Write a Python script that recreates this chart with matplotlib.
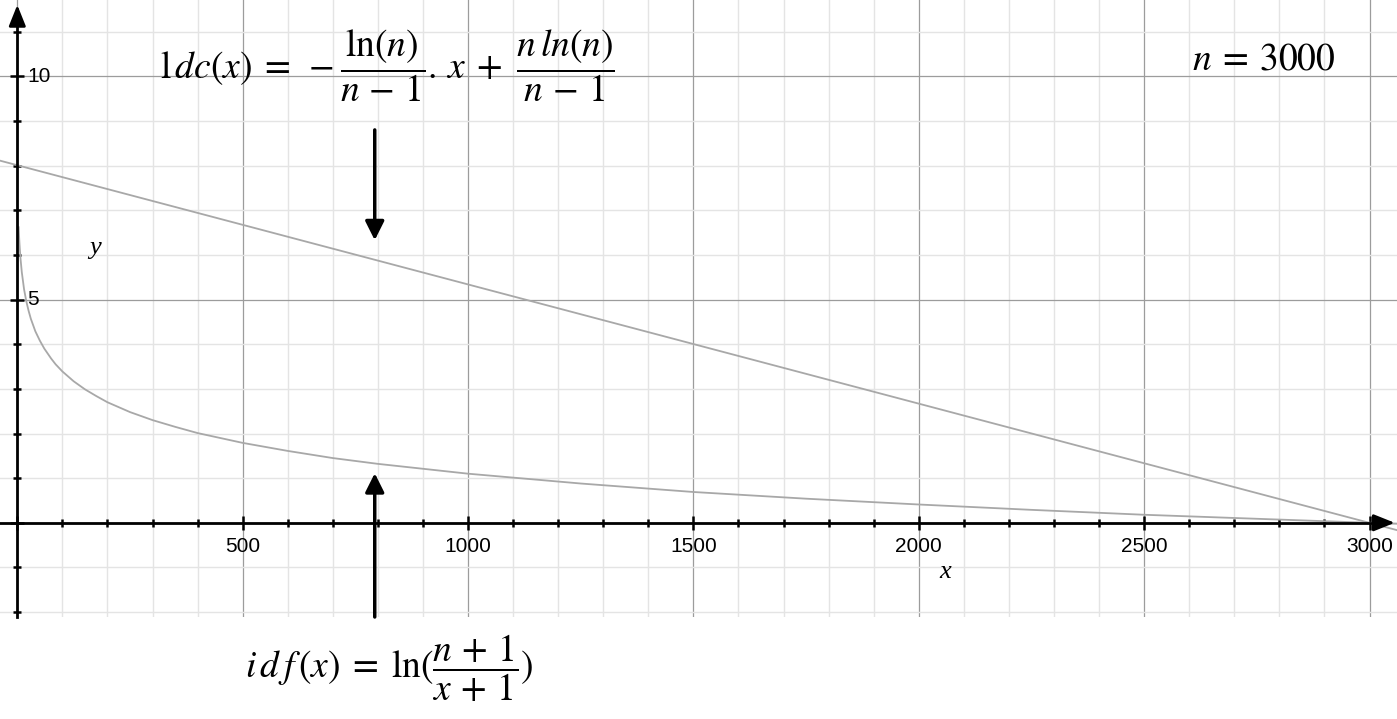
import matplotlib.pyplot as plt
from matplotlib.ticker import MultipleLocator, NullFormatter
import matplotlib.transforms as mtransforms

plt.rcParams['mathtext.fontset'] = 'stix'

# ldc(x) straight line, n = 3000
ldc_x = [-40, 3065]
ldc_y = [8.116, -0.175]

# idf(x) curve, values
idf_x = [3, 4, 5, 7, 10, 15, 20, 25, 30, 40, 50, 60, 75, 85, 100, 125, 150, 175, 200, 225, 250, 300,
         350, 400, 450, 500, 600, 700, 800, 1000, 1250, 1500, 1750, 2000, 2250, 2500, 2750, 3000, 3060]
idf_y = [6.62, 6.40, 6.22, 5.93, 5.61, 5.23, 4.96, 4.75, 4.57, 4.29, 4.08, 3.90, 3.68, 3.55, 3.39, 3.17,
         2.99, 2.84, 2.70, 2.59, 2.48, 2.30, 2.15, 2.01, 1.90, 1.79, 1.61, 1.45, 1.32, 1.10, 0.88, 0.69,
         0.54, 0.41, 0.29, 0.18, 0.09, 0.0, -0.02]

xtick_labels = [500, 1000, 1500, 2000, 2500, 3000]
ytick_labels = [5, 10]

arrow_x = 793
down_arrow = (8.80, 6.33)
up_arrow = (-2.11, 1.11)

fig = plt.figure(figsize=(13.97, 7.19), dpi=100)
ax = fig.add_axes([0, 102 / 719, 1, 617 / 719])
ax.set_xlim(-38.4, 3061)
ax.set_ylim(-2.11, 11.71)

# grid
ax.xaxis.set_major_locator(MultipleLocator(500))
ax.xaxis.set_minor_locator(MultipleLocator(100))
ax.yaxis.set_major_locator(MultipleLocator(5))
ax.yaxis.set_minor_locator(MultipleLocator(1))
ax.grid(which='minor', color='#e4e4e4', lw=1.0)
ax.grid(which='major', color='#9c9c9c', lw=0.9)
ax.set_axisbelow(True)

# axes through origin
for s in ['top', 'right']:
    ax.spines[s].set_visible(False)
ax.spines['left'].set_position(('data', 0))
ax.spines['bottom'].set_position(('data', 0))
ax.spines['left'].set_linewidth(2)
ax.spines['bottom'].set_linewidth(2)
ax.spines['left'].set_bounds(-2.11, 11.3)
ax.spines['bottom'].set_bounds(-40, 3030)
ax.tick_params(which='major', direction='inout', length=10, width=1.8, color='k')
ax.tick_params(which='minor', direction='inout', length=6, width=1.8, color='k')
ax.xaxis.set_major_formatter(NullFormatter())
ax.yaxis.set_major_formatter(NullFormatter())

axis_head = dict(arrowstyle='-|>,head_length=0.75,head_width=0.3', lw=2, color='k',
                 mutation_scale=17, shrinkA=0, shrinkB=0)
ax.annotate('', xy=(3056, 0), xytext=(3010, 0), arrowprops=axis_head, annotation_clip=False)
ax.annotate('', xy=(0, 11.6), xytext=(0, 11.2), arrowprops=axis_head, annotation_clip=False)

# tick labels
below = mtransforms.offset_copy(ax.transData, fig=fig, x=0, y=-24, units='dots')
for v in xtick_labels:
    ax.text(v, 0, str(v), transform=below, ha='center', va='center',
            fontsize=15, family='Liberation Sans')
right = mtransforms.offset_copy(ax.transData, fig=fig, x=10, y=0, units='dots')
for v in ytick_labels:
    ax.text(0, v, str(v), transform=right, ha='left', va='center',
            fontsize=15, family='Liberation Sans')

# curves
ax.plot(ldc_x, ldc_y, color='#a8a8a8', lw=1.3, clip_on=False)
ax.plot(idf_x, idf_y, color='#a8a8a8', lw=1.3)

# arrows pointing at the curves
pointer = dict(arrowstyle='-|>,head_length=0.6,head_width=0.3', lw=2.5, color='k',
               mutation_scale=19, shrinkA=0, shrinkB=0)
ax.annotate('', xy=(arrow_x, down_arrow[1]), xytext=(arrow_x, down_arrow[0]), arrowprops=pointer)
ax.annotate('', xy=(arrow_x, up_arrow[1]), xytext=(arrow_x, up_arrow[0]), arrowprops=pointer)

# axis labels
ax.text(2058, -1.1, 'x', fontsize=19, family='Liberation Serif', style='italic', ha='center', va='center')
ax.text(172, 6.15, 'y', fontsize=19, family='Liberation Serif', style='italic', ha='center', va='center')

# formulas
fig.text(160 / 1397, 1 - 66 / 719,
         r'$\mathrm{l}\,dc(x)\;=\;-\dfrac{\ln(n)}{n\,-\,1}.\,x\;+\ \dfrac{n\,ln(n)}{n\,-\,1}$',
         fontsize=27, ha='left', va='center')
fig.text(1192 / 1397, 1 - 60 / 719, r'$n\:=\:3000$', fontsize=27, ha='left', va='center')
fig.text(245 / 1397, 1 - 668 / 719, r'$i\,d\,f\,(x)\;=\;\ln(\dfrac{n\,+\,1}{x\,+\,1})$',
         fontsize=27, ha='left', va='center')

fig.savefig('out.png', dpi=100)
